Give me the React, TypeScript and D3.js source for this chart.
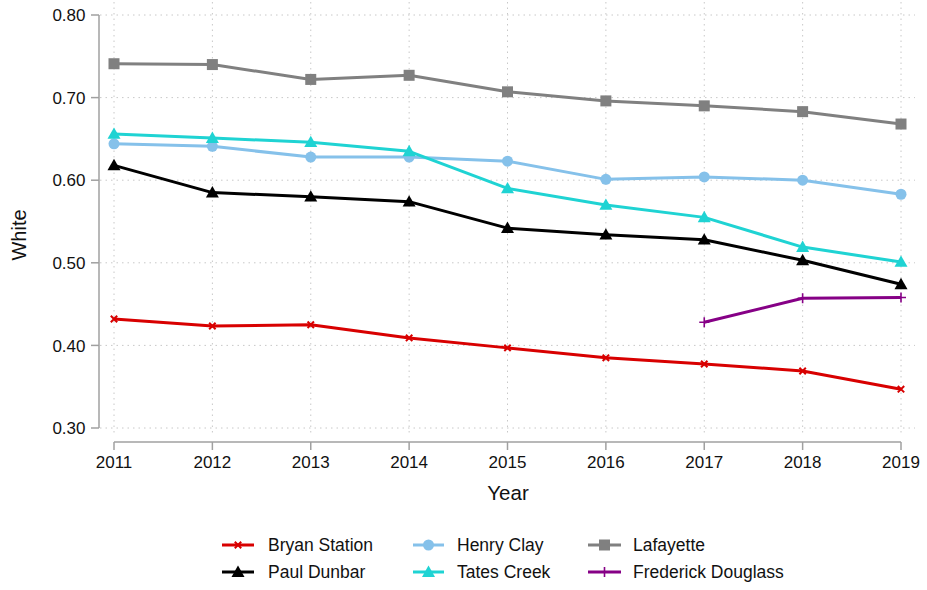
import React from "react";
import * as d3 from "d3";

const years = [2011, 2012, 2013, 2014, 2015, 2016, 2017, 2018, 2019];
const yTicks = [0.3, 0.4, 0.5, 0.6, 0.7, 0.8];

const bryanStation = [0.432, 0.4235, 0.425, 0.409, 0.397, 0.385, 0.3775, 0.369, 0.347];
const paulDunbar = [0.618, 0.585, 0.58, 0.574, 0.542, 0.534, 0.528, 0.503, 0.474];
const henryClay = [0.644, 0.641, 0.628, 0.628, 0.623, 0.601, 0.604, 0.6, 0.583];
const tatesCreek = [0.656, 0.651, 0.646, 0.635, 0.59, 0.57, 0.555, 0.519, 0.501];
const lafayette = [0.741, 0.74, 0.722, 0.727, 0.707, 0.696, 0.69, 0.683, 0.668];
const frederickDouglass = [null, null, null, null, null, null, 0.428, 0.457, 0.458];

type S = { name: string; values: (number | null)[]; color: string; marker: string };
const series: S[] = [
  { name: "Bryan Station", values: bryanStation, color: "#d80000", marker: "x" },
  { name: "Paul Dunbar", values: paulDunbar, color: "#000000", marker: "tri" },
  { name: "Henry Clay", values: henryClay, color: "#85c1ea", marker: "circle" },
  { name: "Tates Creek", values: tatesCreek, color: "#1fd3d3", marker: "tri" },
  { name: "Lafayette", values: lafayette, color: "#808080", marker: "square" },
  { name: "Frederick Douglass", values: frederickDouglass, color: "#860086", marker: "plus" },
];
// draw order (back to front)
const drawOrder = [4, 2, 3, 1, 0, 5];

const FONT = "'Liberation Sans', Arial, Helvetica, sans-serif";

function Marker({ type, x, y, color }: { type: string; x: number; y: number; color: string }) {
  if (type === "square") return <rect x={x - 5.5} y={y - 5.5} width={11} height={11} fill={color} />;
  if (type === "circle") return <circle cx={x} cy={y} r={5.5} fill={color} />;
  if (type === "tri") {
    const s = 6.5;
    return <path d={`M${x},${y - s}L${x + s},${y + s * 0.75}L${x - s},${y + s * 0.75}Z`} fill={color} />;
  }
  if (type === "x") {
    const s = 3.2;
    return (
      <path d={`M${x - s},${y - s}L${x + s},${y + s}M${x - s},${y + s}L${x + s},${y - s}`} stroke={color} strokeWidth={2} />
    );
  }
  if (type === "plus") {
    const s = 5;
    return <path d={`M${x - s},${y}L${x + s},${y}M${x},${y - s}L${x},${y + s}`} stroke={color} strokeWidth={1.6} />;
  }
  return null;
}

export default function App() {
  const W = 927, H = 590;
  const x = d3.scaleLinear().domain([2011, 2019]).range([114, 901]);
  const y = d3.scaleLinear().domain([0.3, 0.8]).range([428, 15]);
  const line = d3
    .line<number | null>()
    .defined((d) => d != null)
    .x((_, i) => x(years[i]))
    .y((d) => y(d as number));

  const legendCols = [
    { lx0: 222, lx1: 254, tx: 268 },
    { lx0: 413, lx1: 444, tx: 457 },
    { lx0: 588, lx1: 621, tx: 633 },
  ];
  const legendRows = [545, 572];
  const legendOrder = [
    [0, 0, 0],
    [2, 0, 1],
    [4, 0, 2],
    [1, 1, 0],
    [3, 1, 1],
    [5, 1, 2],
  ];

  return (
    <svg width={W} height={H} style={{ position: "absolute", left: 0, top: 0, background: "#fff" }} fontFamily={FONT}>
      {/* gridlines */}
      {yTicks.map((t) => (
        <line key={"gy" + t} x1={100} x2={915} y1={y(t)} y2={y(t)} stroke="#c8c8c8" strokeWidth={1} strokeDasharray="1.5,4" />
      ))}
      {years.map((yr) => (
        <line key={"gx" + yr} x1={x(yr)} x2={x(yr)} y1={2} y2={436} stroke="#c8c8c8" strokeWidth={1} strokeDasharray="1.5,4" />
      ))}
      {/* y axis */}
      <line x1={99} x2={99} y1={y(0.8)} y2={y(0.3)} stroke="#a0a0a0" strokeWidth={1.5} />
      {yTicks.map((t) => (
        <g key={"yt" + t}>
          <line x1={91} x2={99} y1={y(t)} y2={y(t)} stroke="#a0a0a0" strokeWidth={1.5} />
          <text x={85.5} y={y(t)} dy="0.36em" textAnchor="end" fontSize={17} fill="#111">
            {t.toFixed(2)}
          </text>
        </g>
      ))}
      {/* x axis */}
      <line x1={x(2011)} x2={x(2019)} y1={442} y2={442} stroke="#a0a0a0" strokeWidth={1.5} />
      {years.map((yr) => (
        <g key={"xt" + yr}>
          <line x1={x(yr)} x2={x(yr)} y1={442} y2={450} stroke="#a0a0a0" strokeWidth={1.5} />
          <text x={x(yr)} y={468} textAnchor="middle" fontSize={17} fill="#111">
            {yr}
          </text>
        </g>
      ))}
      <text x={508} y={500} textAnchor="middle" fontSize={20.5} fill="#111">
        Year
      </text>
      <text transform={`translate(26,235) rotate(-90)`} textAnchor="middle" fontSize={20} fill="#111">
        White
      </text>
      {/* lines */}
      {drawOrder.map((si) => {
        const s = series[si];
        return (
          <g key={s.name}>
            <path d={line(s.values) || ""} fill="none" stroke={s.color} strokeWidth={3} strokeLinejoin="round" />
            {s.values.map((v, i) =>
              v == null ? null : <Marker key={i} type={s.marker} x={x(years[i])} y={y(v)} color={s.color} />
            )}
          </g>
        );
      })}
      {/* legend */}
      {legendOrder.map(([si, r, c]) => {
        const s = series[si];
        const col = legendCols[c];
        const ly = legendRows[r];
        return (
          <g key={"lg" + si}>
            <line x1={col.lx0} x2={col.lx1} y1={ly} y2={ly} stroke={s.color} strokeWidth={3} />
            <Marker type={s.marker} x={(col.lx0 + col.lx1) / 2} y={ly} color={s.color} />
            <text x={col.tx} y={ly} dy="0.36em" fontSize={17.5} fill="#111">
              {s.name}
            </text>
          </g>
        );
      })}
    </svg>
  );
}
